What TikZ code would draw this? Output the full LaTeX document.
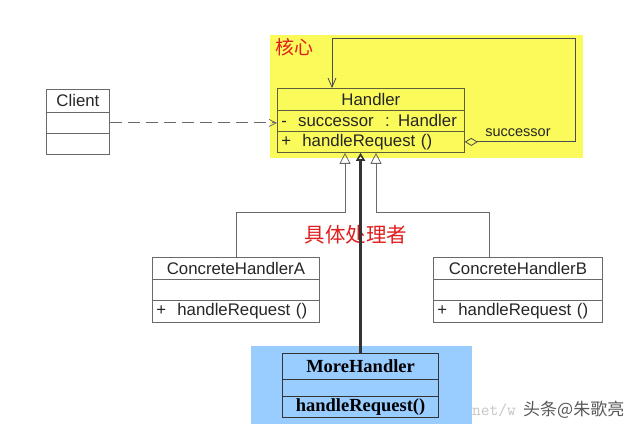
\documentclass[tikz,border=0pt]{standalone}
\usepackage{fontspec}
\setmainfont{Liberation Sans}
\newfontfamily\cjk{Noto Sans CJK SC}
\newfontfamily\tnr{Liberation Serif}
\usetikzlibrary{arrows.meta,calc}
\definecolor{hlyellow}{RGB}{250,250,90}
\definecolor{hlblue}{RGB}{153,204,255}
\definecolor{boxline}{RGB}{105,105,105}
\definecolor{hline}{RGB}{95,95,60}
\definecolor{cnred}{RGB}{225,30,30}
\begin{document}
\begin{tikzpicture}[x=1pt,y=-1pt,
  row/.style={draw=boxline, line width=0.8pt, inner sep=0pt, anchor=north west,
    font=\fontsize{16.8}{17}\selectfont, text=black!85},
  hrow/.style={row, draw=hline},
  mrow/.style={row, draw=black!80, line width=1.1pt, font=\tnr\bfseries\fontsize{18.5}{19}\selectfont, text=black},
  redcn/.style={font=\cjk\fontsize{19}{20}\selectfont, text=cnred, inner sep=0pt},
  gen/.style={draw=boxline, line width=0.8pt, -{Triangle[open,length=11pt,width=11pt]}},
  assoc/.style={draw=black!70, line width=0.8pt,
    {Diamond[open,length=13pt,width=8pt]}-{Straight Barb[length=9pt,width=8pt]}},
  dep/.style={draw=boxline, line width=0.8pt, dash pattern=on 12pt off 6pt,
    -{Straight Barb[length=7pt,width=7pt]}},
  mid/.style={draw=black!80, line width=2.6pt,
    -{Triangle[open,length=8pt,width=9pt,line width=1.6pt]}}
]
\useasboundingbox[fill=white] (0,0) rectangle (640,435);

% highlight areas
\fill[hlyellow] (270,35) rectangle (583,158);
\fill[hlblue] (251,346) rectangle (472,424);

\node[redcn, anchor=north west] (core) at (275,38) {核心};

% Client
\node[row, minimum width=63pt, minimum height=23pt] (cname) at (46,89) {Client};
\node[row, minimum width=63pt, minimum height=21pt] (cattr) at (46,112) {};
\node[row, minimum width=63pt, minimum height=21pt] (cmeth) at (46,133) {};

% Handler
\node[hrow, minimum width=187pt, minimum height=22pt] (hname) at (277,88) {Handler};
\node[hrow, align=left, text width=179pt, minimum width=187pt, minimum height=21pt] (hattr) at (277,110) {-\ \ successor\ \ : Handler};
\node[hrow, align=left, text width=179pt, minimum width=187pt, minimum height=21pt] (hmeth) at (277,131) {+\ \ handleRequest ()};

% ConcreteHandlerA
\node[row, minimum width=167pt, minimum height=22pt] (cha) at (152,257) {ConcreteHandlerA};
\node[row, minimum width=167pt, minimum height=21pt] (chaattr) at (152,279) {};
\node[row, align=left, text width=159pt, minimum width=167pt, minimum height=22pt] (chameth) at (152,300) {+\ \ handleRequest ()};

% ConcreteHandlerB
\node[row, minimum width=169pt, minimum height=22pt] (chb) at (433,257) {ConcreteHandlerB};
\node[row, minimum width=169pt, minimum height=21pt] (chbattr) at (433,279) {};
\node[row, align=left, text width=161pt, minimum width=169pt, minimum height=22pt] (chbmeth) at (433,300) {+\ \ handleRequest ()};

% MoreHandler
\node[mrow, minimum width=156pt, minimum height=26pt] (mname) at (282,353) {MoreHandler};
\node[mrow, minimum width=156pt, minimum height=17pt] (mattr) at (282,379) {};
\node[mrow, minimum width=156pt, minimum height=21pt] (mmeth) at (282,396) {handleRequest()};

% label
\node[redcn, font=\cjk\fontsize{20.5}{21}\selectfont] (concrete) at (356,235) {具体处理者};

% dependency Client -> Handler
\draw[dep] (cattr.east) -- (cattr.east -| hattr.west);

% self association
\coordinate (loopA) at (575,38);
\coordinate (loopB) at (332,38);
\draw[assoc] (hmeth.east) -- (hmeth.east -| loopA) -- (loopA) -- (loopB) -- (loopB |- hname.north);
\node[font=\fontsize{14.5}{15}\selectfont, text=black!85, inner sep=0pt] (succ) at (518,133) {successor};

% generalizations
\coordinate (ga) at (345,212);
\coordinate (gb) at (376,212);
\coordinate (gbx) at (489,257);
\draw[gen] (cha.north) |- (ga) -- (ga |- hmeth.south);
\draw[gen] (gbx) |- (gb) -- (gb |- hmeth.south);
\draw[mid] (mname.north) -- (mname.north |- hmeth.south);

% watermark
\node[font=\ttfamily\fontsize{17}{18}\selectfont, text=black!22, anchor=west, inner sep=0pt] (wm1) at (472,410) {net/w};
\node[font=\cjk\fontsize{17}{18}\selectfont, text=black!65, anchor=west, inner sep=0pt] (wm2) at (523,410) {头条@朱歌亮};
\end{tikzpicture}
\end{document}
